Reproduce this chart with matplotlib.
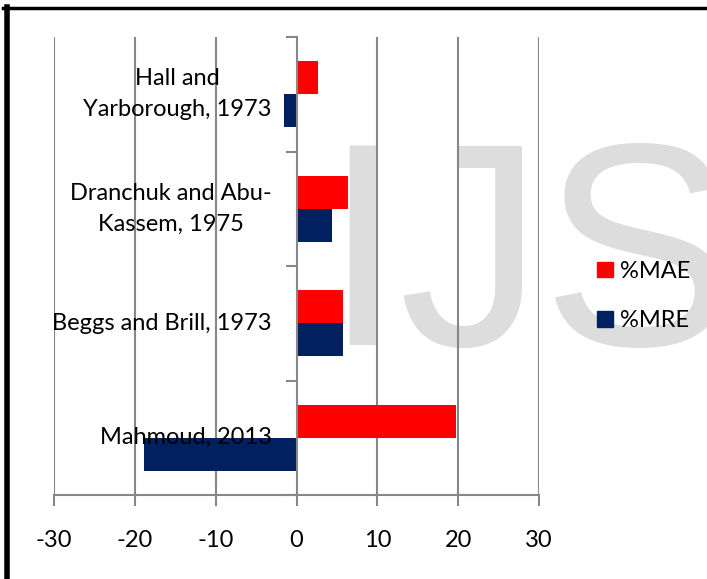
import matplotlib.pyplot as plt
from matplotlib.lines import Line2D
from matplotlib.patches import Patch

# Data (bottom to top)
categories = ['Mahmoud, 2013', 'Beggs and Brill, 1973',
              'Dranchuk and Abu-\nKassem, 1975', 'Hall and\nYarborough, 1973']
mae = [19.7, 5.8, 6.4, 2.7]
mre = [-18.9, 5.8, 4.4, -1.6]
xticks = [-30, -20, -10, 0, 10, 20, 30]

plt.rcParams['font.family'] = ['Lato', 'DejaVu Sans']

fig = plt.figure(figsize=(7.07, 5.79), dpi=100)
ax = fig.add_axes([54 / 707, 1 - 495 / 579, 485 / 707, 458 / 579])
ax.patch.set_alpha(0)

# watermark behind everything, letters placed one by one
wm = dict(fontsize=208, color='#dddddd', family='Liberation Sans',
          va='baseline', ha='left', zorder=-10)
base = 1 - 345 / 579
fig.text(322 / 707, base, 'I', **wm)
fig.text(398 / 707, base, 'J', **wm)
fig.text(542 / 707, base, 'S', **wm)

y = list(range(len(categories)))
h = 0.288
ax.barh([v + h / 2 for v in y], mae, height=h, color='#ff0000', label='%MAE', zorder=1)
ax.barh([v - h / 2 for v in y], mre, height=h, color='#002060', label='%MRE', zorder=1)

ax.set_xlim(-30, 30)
ax.set_ylim(-0.5, len(categories) - 0.5)
ax.set_xticks(xticks)
ax.set_xticklabels([str(t) for t in xticks])
gray = '#878787'
for t in xticks:
    if t != 0:
        ax.axvline(t, color=gray, lw=1.5, zorder=0.5)
ax.set_axisbelow(False)

for s in ['top', 'right']:
    ax.spines[s].set_visible(False)
ax.spines['left'].set_position(('data', 0))
ax.spines['left'].set_color(gray)
ax.spines['left'].set_linewidth(1.5)
ax.spines['bottom'].set_color(gray)
ax.spines['bottom'].set_linewidth(1.5)

ax.set_yticks([v - 0.5 for v in range(len(categories) + 1)])
ax.set_yticklabels([])
ax.set_yticks(y, minor=True)
ax.set_yticklabels(categories, minor=True)
ax.tick_params(axis='y', which='major', direction='out', length=8, color=gray, width=1.5)
ax.tick_params(axis='y', which='minor', length=0, pad=18, labelsize=17)
for lab in ax.get_yticklabels(minor=True):
    lab.set_multialignment('center')
    lab.set_linespacing(1.6)
    lab.set_va('center')
ax.tick_params(axis='x', direction='out', length=8, color=gray, width=1.5,
               pad=17, labelsize=17)

handles = [Patch(color='#ff0000', label='%MAE'), Patch(color='#002060', label='%MRE')]
fig.legend(handles=handles, loc='center left', bbox_to_anchor=(576 / 707, 1 - 296 / 579),
           frameon=False, fontsize=17, handlelength=0.65, handleheight=0.65,
           handletextpad=0.3, labelspacing=1.2)

# outer border (top and left)
fig.add_artist(Line2D([3 / 707, 1], [1 - 8 / 579, 1 - 8 / 579], color='black', lw=2.5,
                      transform=fig.transFigure))
fig.add_artist(Line2D([6.5 / 707, 6.5 / 707], [0, 1 - 7 / 579], color='black', lw=4,
                      transform=fig.transFigure))

fig.savefig('out.png', dpi=100)
